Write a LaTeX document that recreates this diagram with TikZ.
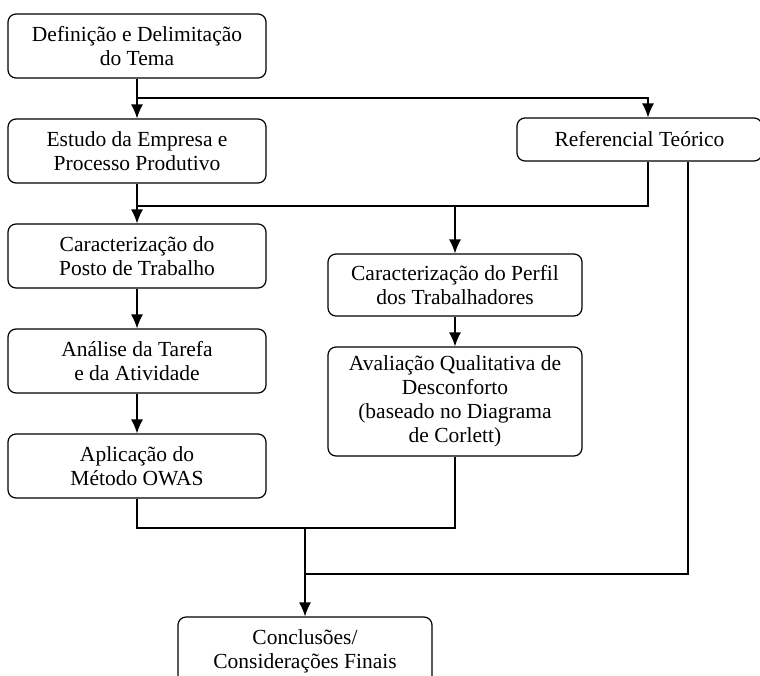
\documentclass[tikz,border=0pt]{standalone}
\usepackage{fontspec}
\setmainfont{Liberation Serif}
\usetikzlibrary{arrows.meta}

\begin{document}
\begin{tikzpicture}[x=1pt, y=-1pt, node distance=105pt, line width=1.2pt,
                    >={Latex[length=14pt,width=12pt]},
                    box/.style={draw, rounded corners=8pt, minimum width=258pt, minimum height=64pt,
                                align=center, inner sep=0pt, font=\fontsize{21.5}{24}\selectfont}]
  \useasboundingbox (0,0) rectangle (760,675);

  % left column
  \node[box] (tema) at (137,46) {Definição e Delimitação\\do Tema};
  \node[box] (empresa) [below of=tema] {Estudo da Empresa e\\Processo Produtivo};
  \node[box] (posto) [below of=empresa] {Caracterização do\\Posto de Trabalho};
  \node[box] (analise) [below of=posto] {Análise da Tarefa\\e da Atividade};
  \node[box] (owas) [below of=analise] {Aplicação do\\Método OWAS};

  % right side
  \node[box, minimum width=245pt, minimum height=43pt] (ref) at (639.5,139.5) {Referencial Teórico};
  \node[box, minimum width=254pt, minimum height=62pt] (perfil) at (455,285) {Caracterização do Perfil\\dos Trabalhadores};
  \node[box, minimum width=254pt, minimum height=109pt] (aval) at (455,401.5)
       {Avaliação Qualitativa de\\Desconforto\\(baseado no Diagrama\\de Corlett)};
  \node[box, minimum width=254pt, minimum height=68pt] (fim) at (305,651) {Conclusões/\\Considerações Finais};

  \coordinate (j1) at (137,98);
  \coordinate (j2) at (137,206);
  \coordinate (j3) at (305,528);
  \coordinate (j4) at (305,574);

  \draw[->] (tema) -- (empresa);
  \draw[->] (j1) -| ([xshift=8.5pt]ref.north);
  \draw[->] (empresa) -- (posto);
  \draw ([xshift=8.5pt]ref.south) |- (j2);
  \draw[->] (perfil.north |- j2) -- (perfil);
  \draw ([xshift=48.5pt]ref.south) |- (j4);
  \draw[->] (posto) -- (analise);
  \draw[->] (analise) -- (owas);
  \draw[->] (perfil) -- (aval);
  \draw (owas) |- (aval.south |- j3) -- (aval);
  \draw[->] (j3) -- (fim);

\end{tikzpicture}
\end{document}
